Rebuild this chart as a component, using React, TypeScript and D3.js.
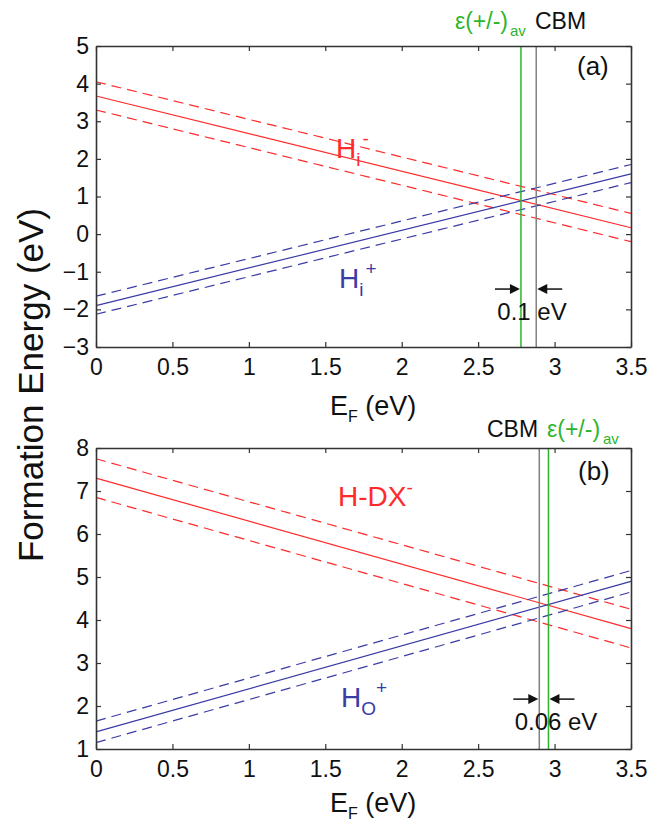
import React, { useEffect, useRef } from "react";
import * as d3 from "d3";

// fermi level range (eV)
const ef = [0, 3.5];

// panel (a): interstitial H
const hiMinus = [3.67, 0.17];
const hiMinusUp = [4.05, 0.55];
const hiMinusLo = [3.3, -0.2];
const hiPlus = [-1.9, 1.6];
const hiPlusUp = [-1.65, 1.85];
const hiPlusLo = [-2.13, 1.37];
const epsAvA = 2.78;
const cbmA = 2.88;
const arrowYA = -1.46;

// panel (b): H-DX / substitutional
const dxMinus = [7.3, 3.8];
const dxMinusUp = [7.75, 4.25];
const dxMinusLo = [6.85, 3.35];
const hoPlus = [1.4, 4.9];
const hoPlusUp = [1.65, 5.15];
const hoPlusLo = [1.15, 4.65];
const cbmB = 2.9;
const epsAvB = 2.96;
const arrowYB = 2.16;

const xTicks = [0, 0.5, 1, 1.5, 2, 2.5, 3, 3.5];
const yTicksA = [-3, -2, -1, 0, 1, 2, 3, 4, 5];
const yTicksB = [1, 2, 3, 4, 5, 6, 7, 8];

const RED = "#ff2a2a";
const BLUE = "#3b3ba6";
const GREEN = "#2cb52c";
const GRAY = "#808080";
const AXIS = "#333";
const FONT = "'Liberation Sans', Arial, sans-serif";

export default function App() {
  const svgRef = useRef<SVGSVGElement>(null);

  useEffect(() => {
    const svg = d3.select(svgRef.current);
    svg.selectAll("*").remove();

    const left = 96;
    const right = 631;
    const x = d3.scaleLinear().domain([0, 3.5]).range([left, right]);

    const drawPanel = (opts: any) => {
      const { top, bottom, yDomain, yTicks, red, blue, lines, arrowY, gapLabel, gapX } = opts;
      const y = d3.scaleLinear().domain(yDomain).range([bottom, top]);
      const g = svg.append("g");

      const line = d3
        .line<number>()
        .x((d, i) => x(ef[i]))
        .y((d) => y(d));

      const series = [
        { v: red[0], c: RED, dash: null },
        { v: red[1], c: RED, dash: "10,6" },
        { v: red[2], c: RED, dash: "10,6" },
        { v: blue[0], c: BLUE, dash: null },
        { v: blue[1], c: BLUE, dash: "10,6" },
        { v: blue[2], c: BLUE, dash: "10,6" },
      ];
      g.selectAll(".ser")
        .data(series)
        .enter()
        .append("path")
        .attr("d", (d) => line(d.v))
        .attr("fill", "none")
        .attr("stroke", (d) => d.c)
        .attr("stroke-width", 1.2)
        .attr("stroke-dasharray", (d) => d.dash);

      // vertical markers
      lines.forEach((l: any) => {
        g.append("line")
          .attr("x1", x(l.v))
          .attr("x2", x(l.v))
          .attr("y1", top)
          .attr("y2", bottom)
          .attr("stroke", l.c)
          .attr("stroke-width", 1.5);
      });

      // axes with inward ticks
      const axL = g.append("g").attr("transform", `translate(${left},0)`)
        .call(d3.axisLeft(y).tickValues(yTicks).tickSizeInner(-5).tickSizeOuter(0).tickPadding(7).tickFormat(d3.format("d")));
      const axR = g.append("g").attr("transform", `translate(${right},0)`)
        .call(d3.axisRight(y).tickValues(yTicks).tickSizeInner(-5).tickSizeOuter(0).tickFormat(() => ""));
      const axB = g.append("g").attr("transform", `translate(0,${bottom})`)
        .call(d3.axisBottom(x).tickValues(xTicks).tickSizeInner(-5).tickSizeOuter(0).tickPadding(12).tickFormat((d: any) => String(d)));
      const axT = g.append("g").attr("transform", `translate(0,${top})`)
        .call(d3.axisTop(x).tickValues(xTicks).tickSizeInner(-5).tickSizeOuter(0).tickFormat(() => ""));
      [axL, axR, axB, axT].forEach((a) => {
        a.select(".domain").attr("stroke", AXIS).attr("stroke-width", 1.6);
        a.selectAll(".tick line").attr("stroke", AXIS).attr("stroke-width", 1.2);
        a.selectAll("text").attr("font-family", FONT).attr("font-size", 23).attr("fill", "#111");
      });

      // gap arrows
      const ay = y(arrowY);
      const arrow = (x0: number, x1: number) => {
        const dir = Math.sign(x1 - x0);
        g.append("line")
          .attr("x1", x0).attr("x2", x1 - dir * 8)
          .attr("y1", ay).attr("y2", ay)
          .attr("stroke", "#111").attr("stroke-width", 1.5);
        g.append("path")
          .attr("d", `M${x1},${ay}L${x1 - dir * 10},${ay - 5}L${x1 - dir * 10},${ay + 5}Z`)
          .attr("fill", "#111");
      };
      const lo = Math.min(lines[0].v, lines[1].v);
      const hi = Math.max(lines[0].v, lines[1].v);
      arrow(x(lo - 0.17), x(lo) - 1);
      arrow(x(hi + 0.17), x(hi) + 1);
      g.append("text")
        .attr("x", gapX)
        .attr("y", ay + 31)
        .attr("text-anchor", "middle")
        .attr("font-family", FONT)
        .attr("font-size", 24)
        .attr("fill", "#111")
        .text(gapLabel);

      return y;
    };

    drawPanel({
      top: 46, bottom: 347, yDomain: [-3, 5], yTicks: yTicksA,
      red: [hiMinus, hiMinusUp, hiMinusLo], blue: [hiPlus, hiPlusUp, hiPlusLo],
      lines: [{ v: epsAvA, c: GREEN }, { v: cbmA, c: GRAY }],
      arrowY: arrowYA, gapLabel: "0.1 eV", gapX: 532,
    });
    drawPanel({
      top: 448, bottom: 749, yDomain: [1, 8], yTicks: yTicksB,
      red: [dxMinus, dxMinusUp, dxMinusLo], blue: [hoPlus, hoPlusUp, hoPlusLo],
      lines: [{ v: cbmB, c: GRAY }, { v: epsAvB, c: GREEN }],
      arrowY: arrowYB, gapLabel: "0.06 eV", gapX: 556,
    });

    const txt = (xx: number, yy: number, size: number, color: string) =>
      svg.append("text").attr("x", xx).attr("y", yy)
        .attr("font-family", FONT).attr("font-size", size).attr("fill", color);

    // species labels
    const hm = txt(336, 158, 28, RED).text("H");
    hm.append("tspan").attr("font-size", 19).attr("dy", 8).text("i");
    hm.append("tspan").attr("font-size", 19).attr("dy", -21).attr("dx", 2).text("-");

    const hp = txt(339, 288, 28, BLUE).text("H");
    hp.append("tspan").attr("font-size", 19).attr("dy", 8).text("i");
    hp.append("tspan").attr("font-size", 19).attr("dy", -21).attr("dx", 2).text("+");

    const dx = txt(338, 506, 28, RED).text("H-DX");
    dx.append("tspan").attr("font-size", 19).attr("dy", -12).text("-");

    const ho = txt(341, 707, 28, BLUE).text("H");
    ho.append("tspan").attr("font-size", 19).attr("dy", 8).text("O");
    ho.append("tspan").attr("font-size", 19).attr("dy", -21).text("+");

    // panel tags
    txt(577, 75, 26, "#111").text("(a)");
    txt(578, 480, 26, "#111").text("(b)");

    // marker captions
    txt(508, 29, 23, GREEN).attr("text-anchor", "end").text("ε(+/-)");
    txt(510, 36, 15, GREEN).text("av");
    txt(535, 29, 23, "#111").text("CBM");

    txt(487, 437, 23, "#111").text("CBM");
    txt(547, 437, 23, GREEN).text("ε(+/-)");
    txt(603, 444, 15, GREEN).text("av");

    // x labels
    [415, 812].forEach((by) => {
      const t = txt(330, by, 27, "#111").text("E");
      t.append("tspan").attr("font-size", 16).attr("dy", 7).text("F");
      t.append("tspan").attr("dy", -7).text(" (eV)");
    });

    // y label
    svg.append("text")
      .attr("transform", "translate(43,385) rotate(-90)")
      .attr("text-anchor", "middle")
      .attr("font-family", FONT)
      .attr("font-size", 35)
      .attr("fill", "#111")
      .text("Formation Energy (eV)");
  }, []);

  return (
    <svg
      ref={svgRef}
      width={663}
      height={825}
      style={{ position: "absolute", left: 0, top: 0, background: "#fff" }}
    />
  );
}
